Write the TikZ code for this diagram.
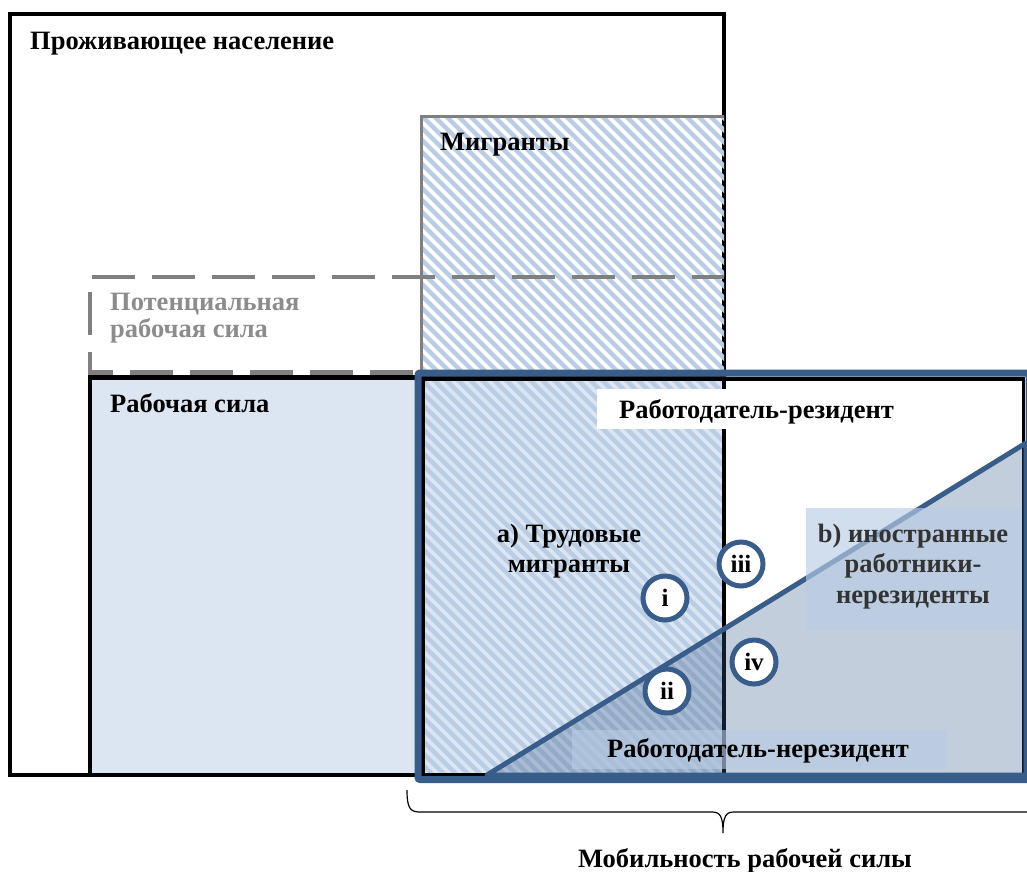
\documentclass[tikz,border=0pt]{standalone}
\usepackage{fontspec}
\setmainfont{Liberation Serif}
\definecolor{blueD}{HTML}{385D8A}
\definecolor{lightfill}{HTML}{DCE6F2}
\definecolor{hatchc}{HTML}{B9CDE5}
\definecolor{boxblue}{HTML}{B8CCE4}
\definecolor{grayL}{HTML}{808080}
\definecolor{grayT}{HTML}{8C8C8C}
\begin{document}
\begin{tikzpicture}[x=1pt,y=-1pt,
  lbl/.style={font=\fontsize{26.5}{30}\selectfont\bfseries, inner sep=0pt},
  clbl/.style={lbl, align=center},
  blk/.style={draw=black, line width=4.5pt},
  circ/.style={circle, draw=blueD, fill=white, line width=5pt, minimum size=44pt, inner sep=0pt, font=\fontsize{25}{28}\selectfont\bfseries},
  hatchline/.style={draw=hatchc, line width=4.3pt}
]
\useasboundingbox (0,0) rectangle (1027,871);
% residents
\draw[blk] (10,14) rectangle (724,775);
% labour force fill
\fill[lightfill] (90,377) rectangle (724,775);
% migrants hatch
\begin{scope}
  \clip (420,116) rectangle (724,775);
  \foreach \a in {-250,-238,...,730} {
    \draw[hatchline] (\a,116) -- ++(670,670);
  }
\end{scope}
\draw[grayL, line width=3pt] (421,378) -- (421,116) -- (724,116);
% potential labour force (dashed)
\draw[grayL, line width=4.5pt, dash pattern=on 43pt off 17pt, dash phase=11pt]
  (724,277) -- (90,277) -- (90,372.5) -- (724,372.5);
% labour force border
\draw[blk] (90,377.5) rectangle (724,775);
% mobility region
\draw[black, line width=3.5pt] (423,379) rectangle (1023.5,776);
\draw[blueD, line width=7pt, rounded corners=2pt] (418,373) rectangle (1029,779.5);
% non-resident employer triangle
\filldraw[fill=blueD, fill opacity=0.3, draw=blueD, line width=5pt, line join=round]
  (487,775) -- (1026,443) -- (1026,775) -- cycle;
% label boxes
\fill[white] (597,389) rectangle (1021,429);
\fill[boxblue, opacity=0.65] (806,508) rectangle (1021,630);
\fill[boxblue, opacity=0.6] (572,730) rectangle (947,769);
% texts
\node[lbl, anchor=base west] (pop) at (30,49) {Проживающее население};
\node[lbl, anchor=base west] (mig) at (440,150) {Мигранты};
\node[lbl, anchor=base west, text=grayT, align=left, font=\fontsize{26.5}{27}\selectfont\bfseries] (pot) at (110,337) {Потенциальная\\рабочая сила};
\node[lbl, anchor=base west] (lf) at (110,412) {Рабочая сила};
\node[lbl, anchor=base west] (res) at (619,418) {Работодатель-резидент};
\node[clbl, anchor=base] (lm) at (569,572) {а) Трудовые\\мигранты};
\node[clbl, anchor=base, text=black!80, font=\fontsize{26.5}{30.5}\selectfont\bfseries] (nr) at (913,603) {b) иностранные\\работники-\\нерезиденты};
\node[lbl, anchor=base west] (nres) at (607,757) {Работодатель-нерезидент};
\node[lbl, anchor=base] (mob) at (745,867) {Мобильность рабочей силы};
% circles
\node[circ] (c1) at (665,598) {i};
\node[circ] (c2) at (667,691) {ii};
\node[circ] (c3) at (741,564) {iii};
\node[circ] (c4) at (754,662) {iv};
% brace
\coordinate (bl) at (407,790);
\coordinate (bt) at (723,833);
\coordinate (br) at (1040,812);
\draw[black, line width=1.2pt]
  (bl) .. controls (407,808) and (410,812) .. (420,812) -- (712,812)
  .. controls (720,812) and (723,816) .. (bt)
  .. controls (723,816) and (726,812) .. (734,812) -- (br);
\end{tikzpicture}
\end{document}
